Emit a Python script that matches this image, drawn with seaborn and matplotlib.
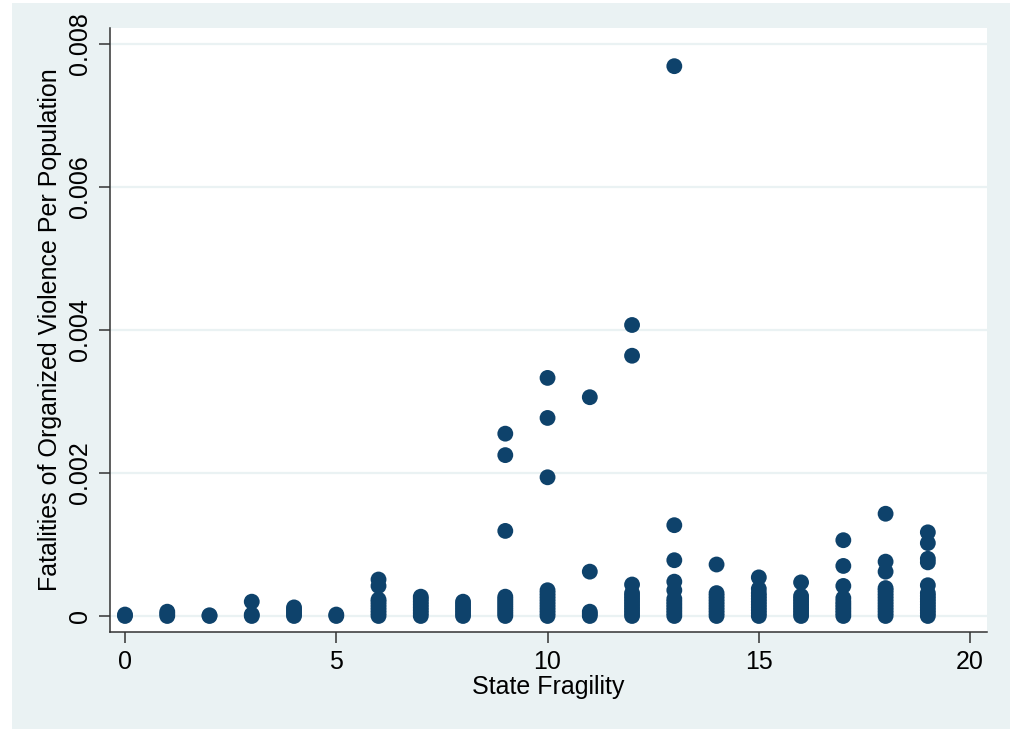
import matplotlib
matplotlib.use("Agg")
import matplotlib.pyplot as plt
from matplotlib.patches import Rectangle
import seaborn as sns
import pandas as pd

# Fatalities per population for each state fragility score (values in units of 1e-4)
fatal_0 = [0, 0.2]
fatal_1 = [0, 0.3, 0.6]
fatal_2 = [0, 0.1]
fatal_3 = [0, 0.2, 2.0]
fatal_4 = [0, 0.3, 0.6, 0.9, 1.2]
fatal_5 = [0, 0.2]
fatal_6 = [0, 0.4, 0.8, 1.2, 1.6, 2.0, 2.3, 4.2, 5.1]
fatal_7 = [0, 0.4, 0.8, 1.2, 1.6, 2.0, 2.4, 2.7]
fatal_8 = [0, 0.4, 0.8, 1.2, 1.6, 2.0]
fatal_9 = [0, 0.3, 0.6, 0.9, 1.2, 1.5, 1.8, 2.1, 2.4, 2.7, 11.9, 22.5, 25.5]
fatal_10 = [0, 0.4, 0.8, 1.2, 1.6, 2.0, 2.4, 2.8, 3.2, 3.6, 19.4, 27.7, 33.3]
fatal_11 = [0, 0.3, 0.6, 6.2, 30.6]
fatal_12 = [0, 0.4, 0.8, 1.2, 1.6, 2.0, 2.4, 2.8, 3.2, 4.4, 36.4, 40.7]
fatal_13 = [0, 0.4, 0.8, 1.2, 1.6, 2.0, 2.4, 3.6, 4.8, 7.8, 12.7, 76.9]
fatal_14 = [0, 0.4, 0.8, 1.2, 1.6, 2.0, 2.4, 2.8, 3.2, 7.2]
fatal_15 = [0, 0.4, 0.8, 1.2, 1.6, 2.0, 2.4, 2.8, 3.2, 3.8, 5.4]
fatal_16 = [0, 0.4, 0.8, 1.2, 1.6, 2.0, 2.4, 2.8, 4.7]
fatal_17 = [0, 0.4, 0.8, 1.2, 1.6, 2.0, 2.5, 4.2, 7.0, 10.6]
fatal_18 = [0, 0.4, 0.8, 1.2, 1.6, 2.0, 2.4, 2.8, 3.2, 3.6, 3.9, 6.2, 7.6, 14.3]
fatal_19 = [0, 0.4, 0.8, 1.2, 1.6, 2.0, 2.4, 2.8, 3.2, 4.3, 7.5, 8.0, 10.2, 11.7]

groups = [fatal_0, fatal_1, fatal_2, fatal_3, fatal_4, fatal_5, fatal_6, fatal_7,
          fatal_8, fatal_9, fatal_10, fatal_11, fatal_12, fatal_13, fatal_14,
          fatal_15, fatal_16, fatal_17, fatal_18, fatal_19]

y_ticks = [0, 0.002, 0.004, 0.006, 0.008]
y_tick_labels = ["0", "0.002", "0.004", "0.006", "0.008"]
x_ticks = [0, 5, 10, 15, 20]

rows = []
for score, vals in enumerate(groups):
    for v in vals:
        rows.append({"fragility": score, "fatalities": v * 1e-4})
df = pd.DataFrame(rows)

BG = "#EAF2F3"
NAVY = "#0E426B"

plt.rcParams['font.family'] = ['Liberation Sans', 'DejaVu Sans']

fig = plt.figure(figsize=(10.14, 7.29), dpi=100, facecolor="white")
fig.patches.append(Rectangle((12 / 1014, 0), 998 / 1014, 726 / 729,
                             transform=fig.transFigure, facecolor=BG,
                             edgecolor="none", zorder=-10))
ax = fig.add_axes([110 / 1014, 1 - 632 / 729, 877 / 1014, 604 / 729])
ax.set_facecolor("white")

# grid lines in background colour, like Stata's s2color scheme
for yt in y_ticks:
    ax.axhline(yt, color=BG, linewidth=1.6, zorder=0)

sns.scatterplot(data=df, x="fragility", y="fatalities", ax=ax, color=NAVY,
                s=130, edgecolor="none", linewidth=0, zorder=3)

ax.set_xlim(-0.355, 20.40)
ax.set_ylim(-0.000224, 0.008224)
ax.set_xticks(x_ticks)
ax.set_xticklabels([str(t) for t in x_ticks])
ax.set_yticks(y_ticks)
ax.set_yticklabels(y_tick_labels, rotation=90, va="center")

for side in ["top", "right"]:
    ax.spines[side].set_visible(False)
for side in ["left", "bottom"]:
    ax.spines[side].set_color("#333333")
    ax.spines[side].set_linewidth(1.1)

ax.tick_params(axis="both", direction="out", length=8, width=1.1,
               color="#333333", labelsize=18, pad=5)

ax.set_xlabel("State Fragility", fontsize=18, labelpad=1)
ax.set_ylabel("Fatalities of Organized Violence Per Population", fontsize=18,
              labelpad=4)

fig.savefig("out.png", dpi=100, facecolor=fig.get_facecolor())
